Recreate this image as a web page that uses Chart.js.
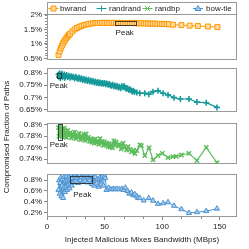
<!DOCTYPE html>
<html>
<head>
<meta charset="utf-8">
<script src="https://cdn.jsdelivr.net/npm/chart.js@4.4.1/dist/chart.umd.min.js"></script>
<style>
html, body { margin: 0; padding: 0; background: #fff; }
#wrap { position: relative; width: 249px; height: 249px; }
#wrap canvas { position: absolute; left: 0; top: 0; }
</style>
</head>
<body>
<div id="wrap">
  <canvas id="c1" width="249" height="249"></canvas>
  <canvas id="c2" width="249" height="249"></canvas>
  <canvas id="c3" width="249" height="249"></canvas>
  <canvas id="c4" width="249" height="249"></canvas>
</div>
<script>
// values (x in MBps, y in %)
var seriesNames = ['bwrand', 'randrand', 'randbp', 'bow-tie'];
var xTicks = [0, 50, 100, 150];

var bwrandX = [10, 11, 12, 13, 14, 15, 16, 17, 18, 19, 20, 22, 24, 26, 28, 30, 32, 34, 36, 38,
    40, 42, 44, 46, 48, 50, 52, 54, 56, 58, 60, 62, 64, 66, 68, 70, 72, 74, 76, 78,
    80, 82, 84, 86, 88, 90, 92, 94, 96, 98, 100, 102, 104, 106, 109.4, 116.7, 123.9, 131, 139.7, 148];
var bwrandY = [0.62, 0.74, 0.85, 0.94, 1.02, 1.09, 1.15, 1.21, 1.26, 1.31, 1.35, 1.43, 1.50, 1.55, 1.59, 1.62, 1.65, 1.67, 1.69, 1.70,
    1.71, 1.72, 1.72, 1.72, 1.73, 1.72, 1.73, 1.72, 1.72, 1.73, 1.72, 1.72, 1.73, 1.72, 1.72, 1.72, 1.72, 1.72, 1.72, 1.71,
    1.71, 1.71, 1.71, 1.71, 1.70, 1.70, 1.70, 1.70, 1.69, 1.69, 1.69, 1.69, 1.68, 1.68, 1.66, 1.65, 1.63, 1.62, 1.60, 1.58];

var randrandX = [10, 10.5, 11, 11.5, 12, 13, 13.5, 14, 15, 15.5, 16, 17, 18, 19, 20, 21, 22, 23, 24, 25,
    26, 27, 28, 29, 30, 31, 32, 33, 34, 35, 36, 37, 38, 39, 40, 41, 42, 43, 44, 45,
    46, 47, 48, 49, 50, 51, 52, 53, 54, 55, 56, 57, 58, 59, 60, 61, 62, 63, 64, 65,
    66, 67, 68, 69, 70, 71, 72, 73, 74, 75, 76, 78, 80.6, 84.9, 88.4, 92.1, 96.4, 100.8, 105.1, 110.3,
    115.8, 123.3, 130.2, 138.3, 147.6];
var randrandY = [0.795, 0.785, 0.800, 0.780, 0.792, 0.798, 0.783, 0.790, 0.795, 0.781, 0.788, 0.793, 0.784, 0.790, 0.781, 0.788, 0.783, 0.786, 0.778, 0.785,
    0.780, 0.776, 0.782, 0.775, 0.779, 0.772, 0.776, 0.770, 0.774, 0.768, 0.773, 0.766, 0.770, 0.765, 0.768, 0.762, 0.766, 0.760, 0.764, 0.758,
    0.762, 0.757, 0.760, 0.756, 0.759, 0.754, 0.757, 0.752, 0.755, 0.750, 0.748, 0.752, 0.746, 0.749, 0.744, 0.747, 0.741, 0.744, 0.738, 0.746,
    0.742, 0.747, 0.740, 0.735, 0.738, 0.731, 0.734, 0.728, 0.724, 0.727, 0.722, 0.720, 0.717, 0.717, 0.7125, 0.7235, 0.7275, 0.717, 0.710, 0.6985,
    0.693, 0.693, 0.680, 0.6775, 0.658];

var randbpX = [10, 10.5, 11, 11.5, 12, 13, 13.5, 14, 15, 15.5, 16, 17, 18, 19, 20, 21, 22, 23, 24, 25,
    26, 27, 28, 29, 30, 31, 32, 33, 34, 35, 36, 37, 38, 39, 40, 41, 42, 43, 44, 45,
    46, 47, 48, 49, 50, 51, 52, 53, 54, 55, 56, 57, 58, 59, 60, 61.8, 63, 64.5, 66.1, 67.5,
    69, 70.5, 72, 73.4, 75, 76.3, 78, 80.6, 82, 84.9, 88.6, 92.1, 96.4, 100.2, 105.1, 109.4,
    112.3, 116.7, 123.3, 130.2, 138.3, 147.6];
var randbpY = [0.795, 0.780, 0.790, 0.798, 0.783, 0.792, 0.779, 0.788, 0.794, 0.780, 0.786, 0.778, 0.790, 0.782, 0.786, 0.777, 0.784, 0.779, 0.787, 0.776,
    0.782, 0.778, 0.785, 0.774, 0.780, 0.776, 0.783, 0.773, 0.784, 0.775, 0.778, 0.771, 0.776, 0.770, 0.774, 0.768, 0.775, 0.769, 0.772, 0.766,
    0.776, 0.768, 0.771, 0.764, 0.770, 0.765, 0.768, 0.762, 0.767, 0.761, 0.765, 0.760, 0.772, 0.764, 0.770, 0.763, 0.766, 0.758, 0.768, 0.761,
    0.756, 0.762, 0.757, 0.753, 0.756, 0.750, 0.755, 0.765, 0.7636, 0.7462, 0.760, 0.7388, 0.7462, 0.7504, 0.7428, 0.7445,
    0.745, 0.7474, 0.7504, 0.7376, 0.7608, 0.734];

var bowtieX = [10, 10.5, 11, 11.5, 12, 12.5, 13, 13.5, 14, 14.5, 15, 15.5, 16, 16.5, 17, 17.5, 18, 18.5, 19, 19.5,
    20, 20.5, 21, 21.5, 22, 23, 24, 25, 26, 27, 28, 29, 30, 31, 32, 33, 34, 35, 36, 37,
    38, 39, 40, 41, 42, 43, 44, 45, 46, 47, 48, 49, 50, 50.5, 51.7, 53.5, 55.5, 57.5, 59, 61,
    63, 65, 66.5, 68, 70, 71.5, 73.4, 75, 76.3, 78, 79.1, 80.6, 84, 88.4, 92.1, 96.4, 100.8, 105.1, 110.3, 116.7,
    123.3, 130.2, 138.3, 147.6];
var bowtieY = [0.62, 0.80, 0.55, 0.75, 0.85, 0.50, 0.70, 0.82, 0.47, 0.66, 0.86, 0.58, 0.78, 0.68, 0.87, 0.62, 0.80, 0.72, 0.86, 0.65,
    0.83, 0.74, 0.88, 0.70, 0.84, 0.76, 0.87, 0.78, 0.85, 0.75, 0.88, 0.80, 0.86, 0.77, 0.84, 0.79, 0.87, 0.76, 0.85, 0.80,
    0.88, 0.73, 0.84, 0.70, 0.86, 0.74, 0.82, 0.68, 0.85, 0.72, 0.87, 0.70, 0.88, 0.84, 0.62, 0.66, 0.63, 0.64, 0.63, 0.64,
    0.63, 0.64, 0.62, 0.66, 0.60, 0.55, 0.57, 0.52, 0.54, 0.50, 0.47, 0.467, 0.422, 0.467, 0.42, 0.36, 0.37, 0.39, 0.324, 0.26,
    0.19, 0.205, 0.225, 0.27];

var yTicks1 = [0.5, 1, 1.5, 2];
var yTicks2 = [0.65, 0.7, 0.75, 0.8];
var yTicks3 = [0.74, 0.76, 0.78, 0.8];
var yTicks4 = [0.2, 0.4, 0.6, 0.8];

// peak windows: [xFrom, xTo, yFrom, yTo], and where the "Peak" word sits [x, y]
var peakBox1 = [59, 77.6, 1.64, 1.80], peakText1 = [67.5, 1.37];
var peakBox2 = [9, 12, 0.779, 0.803], peakText2 = [10.2, 0.747];
var peakBox3 = [9.8, 12.7, 0.7735, 0.8005], peakText3 = [10.2, 0.765];
var peakBox4 = [20, 38.7, 0.745, 0.88], peakText4 = [30.7, 0.528];

var FONT = '"Liberation Sans", Arial, Helvetica, sans-serif';
var ORANGE = '#ff9900', ORANGE_FILL = '#ffd9a0';
var TEAL = '#16999a';
var GREEN = '#5cbd5c';
var BLUE = '#4b93d1', BLUE_FILL = '#a9cdee';

function pts(xs, ys) {
    var out = [];
    for (var i = 0; i < xs.length; i++) {
        out.push({x: xs[i], y: ys[i]});
    }
    return out;
}

function fmtPct(v) {
    return String(Math.round(v * 1000) / 1000) + '%';
}

// frame + peak box + peak word + optional minor ticks
function panelPlugin(box, word, minorY) {
    return {
        id: 'panelDeco',
        beforeDatasetsDraw: function (chart) {
            var a = chart.chartArea, ctx = chart.ctx;
            ctx.save();
            ctx.strokeStyle = '#999';
            ctx.lineWidth = 1;
            ctx.strokeRect(Math.round(a.left) + 0.5, Math.round(a.top) + 0.5,
                Math.round(a.right - a.left) - 1, Math.round(a.bottom - a.top) - 1);
            if (minorY) {
                var ys = chart.scales.y;
                ctx.strokeStyle = '#888';
                for (var v = ys.min; v <= ys.max; v += minorY) {
                    var mv = Math.round(v / minorY) * minorY;
                    if (mv < ys.min || mv > ys.max) continue;
                    var py = Math.round(ys.getPixelForValue(mv)) + 0.5;
                    ctx.beginPath();
                    ctx.moveTo(a.left - 2, py);
                    ctx.lineTo(a.left, py);
                    ctx.stroke();
                }
            }
            ctx.restore();
        },
        afterDatasetsDraw: function (chart) {
            var xs = chart.scales.x, ys = chart.scales.y, ctx = chart.ctx;
            var x0 = Math.round(xs.getPixelForValue(box[0])) + 0.5;
            var x1 = Math.round(xs.getPixelForValue(box[1])) + 0.5;
            var y0 = Math.round(ys.getPixelForValue(box[3])) + 0.5;
            var y1 = Math.round(ys.getPixelForValue(box[2])) + 0.5;
            ctx.save();
            ctx.strokeStyle = 'rgba(40,40,40,0.85)';
            ctx.lineWidth = 1;
            ctx.strokeRect(x0, y0, x1 - x0, y1 - y0);
            ctx.fillStyle = '#222';
            ctx.font = '8px ' + FONT;
            ctx.textAlign = 'center';
            ctx.textBaseline = 'middle';
            ctx.fillText('Peak', xs.getPixelForValue(word[0]), ys.getPixelForValue(word[1]));
            ctx.restore();
        }
    };
}

function drawMarker(ctx, style, x, y, stroke, fill) {
    ctx.strokeStyle = stroke;
    ctx.fillStyle = fill;
    ctx.lineWidth = 1;
    ctx.beginPath();
    if (style === 'rect') {
        ctx.rect(x - 2.5, y - 2.5, 5, 5);
        ctx.fill();
        ctx.stroke();
    } else if (style === 'cross') {
        ctx.moveTo(x - 3, y); ctx.lineTo(x + 3, y);
        ctx.moveTo(x, y - 3); ctx.lineTo(x, y + 3);
        ctx.stroke();
    } else if (style === 'crossRot') {
        ctx.moveTo(x - 2.5, y - 2.5); ctx.lineTo(x + 2.5, y + 2.5);
        ctx.moveTo(x - 2.5, y + 2.5); ctx.lineTo(x + 2.5, y - 2.5);
        ctx.stroke();
    } else {
        ctx.moveTo(x, y - 3); ctx.lineTo(x + 3, y + 2); ctx.lineTo(x - 3, y + 2);
        ctx.closePath();
        ctx.fill();
        ctx.stroke();
    }
}

var legendPlugin = {
    id: 'legendBox',
    afterDraw: function (chart) {
        var a = chart.chartArea, ctx = chart.ctx;
        var items = [
            {cx: 53.5, tx: 60, color: ORANGE, fill: ORANGE_FILL, style: 'rect'},
            {cx: 101.5, tx: 109, color: TEAL, fill: TEAL, style: 'cross'},
            {cx: 147.5, tx: 155, color: GREEN, fill: GREEN, style: 'crossRot'},
            {cx: 198, tx: 206, color: BLUE, fill: BLUE_FILL, style: 'triangle'}
        ];
        ctx.save();
        ctx.strokeStyle = '#999';
        ctx.lineWidth = 1;
        ctx.strokeRect(Math.round(a.left) + 0.5, 2.5, Math.round(a.right - a.left) - 1, Math.round(a.top) - 2);
        var cy = 8.5;
        for (var i = 0; i < items.length; i++) {
            var it = items[i];
            ctx.strokeStyle = it.color;
            ctx.lineWidth = 1;
            ctx.beginPath();
            ctx.moveTo(it.cx - 5, cy);
            ctx.lineTo(it.cx + 5, cy);
            ctx.stroke();
            drawMarker(ctx, it.style, it.cx, cy, it.color, it.fill);
            ctx.fillStyle = '#222';
            ctx.font = '8px ' + FONT;
            ctx.textAlign = 'left';
            ctx.textBaseline = 'middle';
            ctx.fillText(seriesNames[i], it.tx, cy + 0.5);
        }
        ctx.restore();
    }
};

var yTitlePlugin = {
    id: 'yTitle',
    afterDraw: function (chart) {
        var ctx = chart.ctx;
        ctx.save();
        ctx.translate(7, 137);
        ctx.rotate(-Math.PI / 2);
        ctx.fillStyle = '#222';
        ctx.font = '8px ' + FONT;
        ctx.textAlign = 'center';
        ctx.textBaseline = 'middle';
        ctx.fillText('Compromised Fraction of Paths', 0, 0);
        ctx.restore();
    }
};

var xMinorPlugin = {
    id: 'xMinor',
    afterDraw: function (chart) {
        var xs = chart.scales.x, a = chart.chartArea, ctx = chart.ctx;
        ctx.save();
        ctx.strokeStyle = '#888';
        ctx.lineWidth = 1;
        for (var k = 0; k * 50 / 3 <= xs.max; k++) {
            if (k % 3 === 0) continue;
            var px = Math.round(xs.getPixelForValue(k * 50 / 3)) + 0.5;
            ctx.beginPath();
            ctx.moveTo(px, a.bottom);
            ctx.lineTo(px, a.bottom + 2);
            ctx.stroke();
        }
        ctx.restore();
    }
};

function makePanel(id, p) {
    var ctx = document.getElementById(id);
    var plugins = [panelPlugin(p.box, p.word, p.minorY)].concat(p.extra || []);
    return new Chart(ctx, {
        type: 'line',
        data: {
            datasets: [{
                label: p.name,
                data: pts(p.xs, p.ys),
                borderColor: p.color,
                backgroundColor: p.fill,
                borderWidth: p.lineWidth || 1,
                pointStyle: p.style,
                pointRadius: p.radius,
                pointBorderWidth: p.pointWidth || 1,
                pointBorderColor: p.color,
                pointBackgroundColor: p.fill,
                tension: 0
            }]
        },
        options: {
            responsive: false,
            animation: false,
            events: [],
            layout: {padding: {left: 0, right: 12, top: p.top, bottom: p.bottom}},
            plugins: {legend: {display: false}, tooltip: {enabled: false}},
            scales: {
                x: {
                    type: 'linear',
                    min: 0,
                    max: 165,
                    display: p.showX,
                    afterFit: function (s) { if (p.showX) { s.height = 32; } },
                    afterBuildTicks: function (s) { s.ticks = xTicks.map(function (v) { return {value: v}; }); },
                    ticks: {font: {family: FONT, size: 8}, color: '#222', padding: 2, maxRotation: 0, autoSkip: false},
                    grid: {drawOnChartArea: false, tickLength: 3, color: '#888'},
                    border: {display: false},
                    title: {
                        display: true,
                        text: 'Injected Malicious Mixes Bandwidth (MBps)',
                        font: {family: FONT, size: 8},
                        color: '#222',
                        padding: {top: 0, bottom: 4}
                    }
                },
                y: {
                    min: p.yMin,
                    max: p.yMax,
                    afterFit: function (s) { s.width = 47; },
                    afterBuildTicks: function (s) { s.ticks = p.yTicks.map(function (v) { return {value: v}; }); },
                    ticks: {
                        font: {family: FONT, size: 8},
                        color: '#222',
                        padding: 2,
                        autoSkip: false,
                        callback: function (v) { return fmtPct(v); }
                    },
                    grid: {drawOnChartArea: false, tickLength: 3, color: '#888'},
                    border: {display: false}
                }
            }
        },
        plugins: plugins
    });
}

makePanel('c1', {
    name: seriesNames[0], xs: bwrandX, ys: bwrandY, color: ORANGE, fill: ORANGE_FILL,
    style: 'rect', radius: 3.5, top: 13.5, bottom: 249 - 59.5, yMin: 0.46, yMax: 2.05,
    yTicks: yTicks1, box: peakBox1, word: peakText1, minorY: 0.1, showX: false, extra: [legendPlugin]
});
makePanel('c2', {
    name: seriesNames[1], xs: randrandX, ys: randrandY, color: TEAL, fill: TEAL,
    style: 'cross', radius: 3, pointWidth: 1.6, lineWidth: 1.2, top: 67.5, bottom: 249 - 111, yMin: 0.643, yMax: 0.824,
    yTicks: yTicks2, box: peakBox2, word: peakText2, showX: false
});
makePanel('c3', {
    name: seriesNames[2], xs: randbpX, ys: randbpY, color: GREEN, fill: GREEN,
    style: 'crossRot', radius: 3, pointWidth: 1.5, lineWidth: 1.2, top: 123, bottom: 249 - 164, yMin: 0.7318, yMax: 0.803,
    yTicks: yTicks3, box: peakBox3, word: peakText3, showX: false
});
makePanel('c4', {
    name: seriesNames[3], xs: bowtieX, ys: bowtieY, color: BLUE, fill: BLUE_FILL,
    style: 'triangle', radius: 3, top: 174, bottom: 0, yMin: 0.115, yMax: 0.917,
    yTicks: yTicks4, box: peakBox4, word: peakText4, showX: true, extra: [yTitlePlugin, xMinorPlugin]
});
</script>
</body>
</html>
